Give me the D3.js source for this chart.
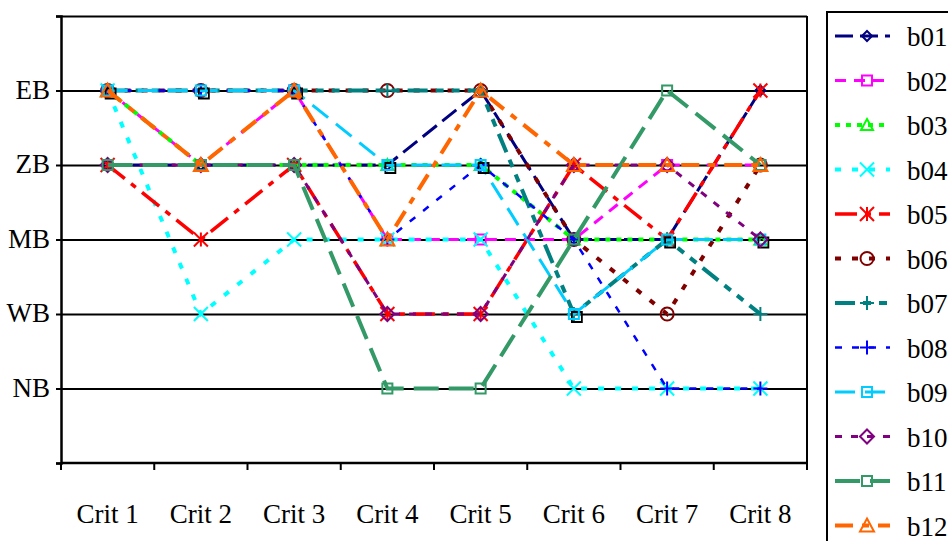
<!DOCTYPE html>
<html>
<head>
<meta charset="utf-8">
<script src="https://cdn.jsdelivr.net/npm/d3@7"></script>
<style>
  html, body { margin: 0; padding: 0; background: #fff; }
  svg { display: block; }
  text { font-family: "Liberation Serif", "Times New Roman", serif; fill: #000; }
</style>
</head>
<body>
<svg id="chart" width="948" height="541"></svg>
<script>
// Criteria along the x axis and rating levels on the y axis (0..6, labelled 1..5)
const criteria = ["Crit 1", "Crit 2", "Crit 3", "Crit 4", "Crit 5", "Crit 6", "Crit 7", "Crit 8"];
const levelLabels = ["", "NB", "WB", "MB", "ZB", "EB", ""];

// Ratings per alternative (1 = NB ... 5 = EB)
const b01 = [4, 4, 4, 4, 5, 3, 3, 5];
const b02 = [5, 4, 5, 3, 3, 3, 4, 4];
const b03 = [5, 4, 4, 4, 4, 3, 3, 3];
const b04 = [5, 2, 3, 3, 3, 1, 1, 1];
const b05 = [4, 3, 4, 2, 2, 4, 3, 5];
const b06 = [5, 5, 5, 5, 5, 3, 2, 4];
const b07 = [5, 5, 5, 5, 5, 2, 3, 2];
const b08 = [5, 5, 5, 3, 4, 3, 1, 1];
const b09 = [5, 5, 5, 4, 4, 2, 3, 3];
const b10 = [4, 4, 4, 2, 2, 4, 4, 3];
const b11 = [4, 4, 4, 1, 1, 3, 5, 4];
const b12 = [5, 4, 5, 3, 5, 4, 4, 4];

const seriesNames = ["b01", "b02", "b03", "b04", "b05", "b06", "b07", "b08", "b09", "b10", "b11", "b12"];
const seriesValues = [b01, b02, b03, b04, b05, b06, b07, b08, b09, b10, b11, b12];

// Line and marker styling per series
const styles = {
  b01: { color: "#000080", width: 3,   dash: "18,7",            marker: "diamond",  size: 5 },
  b02: { color: "#FF00FF", width: 3,   dash: "11,8",            marker: "square",   size: 5 },
  b03: { color: "#00FF00", width: 4,   dash: "5,6",             marker: "triangle", size: 6 },
  b04: { color: "#00FFFF", width: 4,   dash: "6,11",            marker: "x",        size: 7 },
  b05: { color: "#FF0000", width: 3.5, dash: "22,8,6,8",        marker: "asterisk", size: 7 },
  b06: { color: "#800000", width: 4,   dash: "6,11",            marker: "circle",   size: 6.5 },
  b07: { color: "#008080", width: 4,   dash: "20,8,8,8,8,8",    marker: "plus",     size: 7 },
  b08: { color: "#0000FF", width: 2.5, dash: "7,10",            marker: "plus",     size: 7 },
  b09: { color: "#00CCFF", width: 3,   dash: "20,10",           marker: "square",   size: 5, shadow: true },
  b10: { color: "#800080", width: 3,   dash: "7,9",             marker: "diamond",  size: 7 },
  b11: { color: "#339966", width: 4,   dash: "25,10",           marker: "square",   size: 5 },
  b12: { color: "#FF6600", width: 4,   dash: "18,9,7,9",        marker: "triangle", size: 7 }
};

const svg = d3.select("#chart");
const plot = { left: 61, top: 16, right: 807, bottom: 463 };

const x = d3.scaleBand().domain(criteria).range([plot.left, plot.right]).padding(0);
const y = d3.scaleLinear().domain([0, 6]).range([plot.bottom, plot.top]);
const cx = c => x(c) + x.bandwidth() / 2;

// Horizontal gridlines at each rating level, plus the top border
svg.append("g")
  .attr("transform", `translate(${plot.left},0)`)
  .call(d3.axisLeft(y).tickValues([1, 2, 3, 4, 5, 6]).tickSize(-(plot.right - plot.left)).tickFormat(""))
  .call(g => g.select(".domain").remove())
  .call(g => g.selectAll("line").attr("stroke", "#000").attr("stroke-width", 2));

// Right border of the plot area
svg.append("line")
  .attr("x1", plot.right).attr("x2", plot.right)
  .attr("y1", plot.top).attr("y2", plot.bottom)
  .attr("stroke", "#000").attr("stroke-width", 2);

// Y axis with rating labels
svg.append("g")
  .attr("transform", `translate(${plot.left},0)`)
  .call(d3.axisLeft(y).tickValues(d3.range(0, 7)).tickSize(5).tickPadding(6)
    .tickFormat(d => levelLabels[d]))
  .call(g => g.select(".domain").attr("stroke", "#000").attr("stroke-width", 2.5))
  .call(g => g.selectAll("line").attr("stroke", "#000").attr("stroke-width", 2))
  .call(g => g.selectAll("text").attr("font-size", 27).attr("dy", "0.28em")
    .style("font-family", "'Liberation Serif', 'Times New Roman', serif"));

// X axis: ticks at category boundaries, labels centred on each category
const boundaries = criteria.map(c => x(c)).concat([plot.right]);
const xAxis = svg.append("g").attr("class", "x-axis");
xAxis.append("line")
  .attr("x1", plot.left).attr("x2", plot.right)
  .attr("y1", plot.bottom).attr("y2", plot.bottom)
  .attr("stroke", "#000").attr("stroke-width", 2.5);
xAxis.selectAll("line.tick").data(boundaries).join("line")
  .attr("class", "tick")
  .attr("x1", d => d).attr("x2", d => d)
  .attr("y1", plot.bottom).attr("y2", plot.bottom + 7)
  .attr("stroke", "#000").attr("stroke-width", 2);
xAxis.selectAll("text").data(criteria).join("text")
  .attr("x", d => cx(d)).attr("y", 523)
  .attr("text-anchor", "middle").attr("font-size", 27)
  .text(d => d);

// Marker path generator
function markerPath(type, s) {
  switch (type) {
    case "diamond":  return `M0,${-s}L${s},0L0,${s}L${-s},0Z`;
    case "square":   return `M${-s},${-s}H${s}V${s}H${-s}Z`;
    case "triangle": return `M0,${-s}L${s},${s * 0.85}L${-s},${s * 0.85}Z`;
    case "circle":   return `M${s},0A${s},${s} 0 1,1 ${-s},0A${s},${s} 0 1,1 ${s},0Z`;
    case "x":        return `M${-s},${-s}L${s},${s}M${s},${-s}L${-s},${s}`;
    case "plus":     return `M${-s},0H${s}M0,${-s}V${s}`;
    case "asterisk": return `M${-s},${-s}L${s},${s}M${s},${-s}L${-s},${s}M0,${-s}V${s}`;
  }
  return "";
}

const line = d3.line().x((d, i) => cx(criteria[i])).y(d => y(d));

// Series lines and markers, drawn in order so later series sit on top
seriesNames.forEach((name, k) => {
  const st = styles[name];
  const vals = seriesValues[k];
  const g = svg.append("g").attr("class", "series " + name);
  g.append("path")
    .datum(vals)
    .attr("d", line)
    .attr("fill", "none")
    .attr("stroke", st.color)
    .attr("stroke-width", st.width)
    .attr("stroke-dasharray", st.dash);
  if (st.shadow) {
    g.selectAll("path.shadow").data(vals).join("path")
      .attr("class", "shadow")
      .attr("transform", (d, i) => `translate(${cx(criteria[i]) + 3},${y(d) + 3})`)
      .attr("d", markerPath(st.marker, st.size))
      .attr("fill", "none").attr("stroke", "#000").attr("stroke-width", 1.8);
  }
  g.selectAll("path.mark").data(vals).join("path")
    .attr("class", "mark")
    .attr("transform", (d, i) => `translate(${cx(criteria[i])},${y(d)})`)
    .attr("d", markerPath(st.marker, st.size))
    .attr("fill", "none").attr("stroke", st.color).attr("stroke-width", 2);
});

// Legend
const legend = svg.append("g").attr("class", "legend");
legend.append("rect")
  .attr("x", 827).attr("y", 12).attr("width", 200).attr("height", 600)
  .attr("fill", "#fff").attr("stroke", "#000").attr("stroke-width", 2);
seriesNames.forEach((name, k) => {
  const st = styles[name];
  const ly = 36 + k * 44.5;
  const item = legend.append("g").attr("transform", `translate(0,${ly})`);
  item.append("line")
    .attr("x1", 835).attr("x2", 890).attr("y1", 0).attr("y2", 0)
    .attr("stroke", st.color).attr("stroke-width", st.width)
    .attr("stroke-dasharray", st.dash);
  item.append("path")
    .attr("transform", "translate(867,0)")
    .attr("d", markerPath(st.marker, Math.max(st.size, 5)))
    .attr("fill", "none").attr("stroke", st.color).attr("stroke-width", 2);
  item.append("text")
    .attr("x", 907).attr("y", 10)
    .attr("font-size", 27)
    .text(name);
});
</script>
</body>
</html>
